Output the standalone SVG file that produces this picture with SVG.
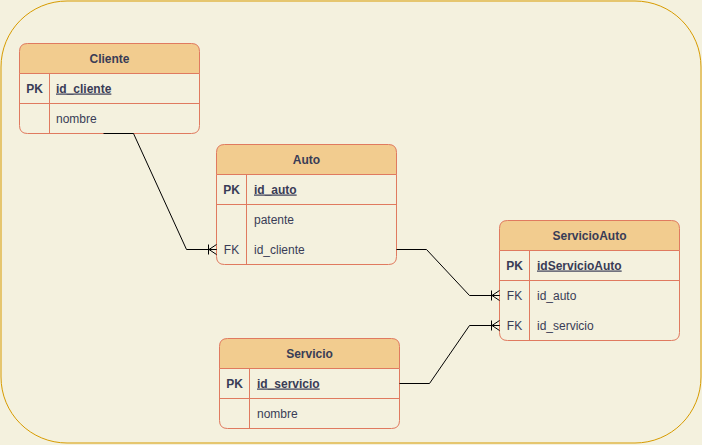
<svg xmlns="http://www.w3.org/2000/svg" width="702" height="445" viewBox="0 0 702 445">
<defs>
<style>
.hdr{fill:#F2CC8F;stroke:#E07A5F;stroke-width:1}
.body{fill:#F4F1DE;stroke:#E07A5F;stroke-width:1}
.ln{stroke:#E07A5F;stroke-width:1;fill:none}
text{font-family:"Liberation Sans",Arial,sans-serif;font-size:12px;fill:#393C56}
.t{font-weight:bold;text-anchor:middle}
.k{font-weight:bold;text-anchor:middle}
.kn{text-anchor:middle}
.pk{font-weight:bold;text-decoration:underline}
.edge{stroke:#000;stroke-width:1;fill:none}
</style>
<marker id="erMany" markerWidth="12" markerHeight="12" viewBox="0 0 12 12" refX="10" refY="6" orient="auto" markerUnits="userSpaceOnUse">
<path d="M2,1 L2,11 M2.5,6 L10,1 M2.5,6 L10,11 M2.5,6 L10,6" stroke="#000" stroke-width="1" fill="none"/>
</marker>
</defs>
<rect x="0" y="0" width="702" height="445" fill="#F4F1DE"/>
<rect x="1" y="1" width="700" height="442" rx="66" ry="66" fill="#F4F1DE" stroke="#D79B00" stroke-width="1"/>

<g id="Cliente">
<path class="hdr" d="M19.5,73.5 V51.5 Q19.5,43.5 27.5,43.5 H191.5 Q199.5,43.5 199.5,51.5 V73.5 Z"/>
<path class="body" d="M19.5,73.5 H199.5 V125.5 Q199.5,133.5 191.5,133.5 H27.5 Q19.5,133.5 19.5,125.5 Z"/>
<path class="ln" d="M19.5,103.5 H199.5 M49.5,73.5 V133.5"/>
<text class="t" x="109.5" y="62.5">Cliente</text>
<text class="k" x="34.5" y="92.5">PK</text>
<text class="pk" x="56" y="92.5">id_cliente</text>
<text x="56" y="122.5">nombre</text>
</g>

<g id="Auto">
<path class="hdr" d="M216.5,174.5 V152.5 Q216.5,144.5 224.5,144.5 H388.5 Q396.5,144.5 396.5,152.5 V174.5 Z"/>
<path class="body" d="M216.5,174.5 H396.5 V256.5 Q396.5,264.5 388.5,264.5 H224.5 Q216.5,264.5 216.5,256.5 Z"/>
<path class="ln" d="M216.5,204.5 H396.5 M246.5,174.5 V264.5"/>
<text class="t" x="306.5" y="163.5">Auto</text>
<text class="k" x="231.5" y="193.5">PK</text>
<text class="pk" x="254" y="193.5">id_auto</text>
<text x="254" y="223.5">patente</text>
<text class="kn" x="231.5" y="253.5">FK</text>
<text x="254" y="253.5">id_cliente</text>
</g>

<g id="ServicioAuto">
<path class="hdr" d="M499.5,250.5 V228.5 Q499.5,220.5 507.5,220.5 H671.5 Q679.5,220.5 679.5,228.5 V250.5 Z"/>
<path class="body" d="M499.5,250.5 H679.5 V332.5 Q679.5,340.5 671.5,340.5 H507.5 Q499.5,340.5 499.5,332.5 Z"/>
<path class="ln" d="M499.5,280.5 H679.5 M529.5,250.5 V340.5"/>
<text class="t" x="589.5" y="239.5">ServicioAuto</text>
<text class="k" x="514.5" y="269.5">PK</text>
<text class="pk" x="537" y="269.5">idServicioAuto</text>
<text class="kn" x="514.5" y="299.5">FK</text>
<text x="537" y="299.5">id_auto</text>
<text class="kn" x="514.5" y="329.5">FK</text>
<text x="537" y="329.5">id_servicio</text>
</g>

<g id="Servicio">
<path class="hdr" d="M219.5,368.5 V346.5 Q219.5,338.5 227.5,338.5 H391.5 Q399.5,338.5 399.5,346.5 V368.5 Z"/>
<path class="body" d="M219.5,368.5 H399.5 V420.5 Q399.5,428.5 391.5,428.5 H227.5 Q219.5,428.5 219.5,420.5 Z"/>
<path class="ln" d="M219.5,398.5 H399.5 M249.5,368.5 V428.5"/>
<text class="t" x="309.5" y="357.5">Servicio</text>
<text class="k" x="234.5" y="387.5">PK</text>
<text class="pk" x="257" y="387.5">id_servicio</text>
<text x="257" y="417.5">nombre</text>
</g>

<g id="connectors">
<path class="edge" d="M103.5,133.5 L133.5,133.5 L186.5,249.5 L216.5,249.5" marker-end="url(#erMany)"/>
<path class="edge" d="M396.5,249.5 L426.5,249.5 L469.5,295.5 L499.5,295.5" marker-end="url(#erMany)"/>
<path class="edge" d="M399.5,383.5 L429.5,383.5 L469.5,325.5 L499.5,325.5" marker-end="url(#erMany)"/>
</g>
</svg>
